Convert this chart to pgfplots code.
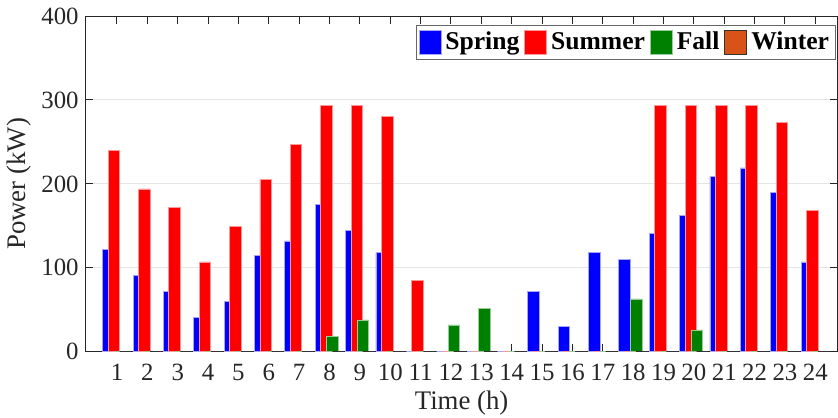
\documentclass[border=0pt]{standalone}
\usepackage{fontspec}
\setmainfont{Liberation Serif}
\usepackage{pgfplots}
\pgfplotsset{compat=1.18}
\definecolor{mgray}{RGB}{38,38,38}
\definecolor{cspring}{RGB}{0,0,255}
\definecolor{csummer}{RGB}{255,0,0}
\definecolor{cfall}{RGB}{0,128,0}
\definecolor{cwinter}{RGB}{217,83,25}
\begin{document}
\begin{tikzpicture}
\begin{axis}[
  name=ax,
  scale only axis,
  width=375.9pt, height=167.9pt,
  xmin=-0.03, xmax=24.73,
  ymin=0, ymax=400,
  xtick={1,...,24},
  ytick={0,100,200,300,400},
  /pgf/number format/assume math mode=true,
  xticklabel={\pgfmathprintnumber{\tick}},
  yticklabel={\pgfmathprintnumber{\tick}},
  ymajorgrids,
  grid style={draw=black!10, line width=0.5pt},
  axis line style={draw=mgray, line width=0.5pt},
  major tick style={draw=mgray, line width=0.5pt},
  major tick length=3.8pt,
  tick label style={font=\fontsize{12.4}{14}\selectfont, text=mgray},
  xticklabel style={yshift=-2.5pt},
  xlabel={Time (h)}, ylabel={Power (kW)},
  label style={font=\fontsize{13.4}{15}\selectfont, text=mgray},
  xlabel style={yshift=1.5pt},
  ylabel style={yshift=-2pt},
  legend columns=4,
  legend style={at={(0.998,0.973)}, anchor=north east, draw=black!60, line width=0.6pt,
    font=\fontsize{12.8}{15}\selectfont\bfseries, inner sep=1.2pt,
    /tikz/every even column/.append style={column sep=0.5pt}},
  legend image code/.code={\draw[#1] (0pt,-6pt) rectangle (11pt,6.2pt);},
]
\addplot[ybar, bar width=0.38, bar shift=-0.28, fill=cspring, draw=cspring!35, line width=0.4pt] coordinates {
(1,122)(2,91)(3,72)(4,41)(5,60)(6,115)(7,132)(8,176)(9,145)(10,118)(11,0)(12,0)
(13,0)(14,0)(15,72)(16,30)(17,118)(18,110)(19,141)(20,162)(21,209)(22,219)(23,190)(24,107)};
\addplot[ybar, bar width=0.38, bar shift=-0.10, fill=csummer, draw=csummer!40, line width=0.4pt] coordinates {
(1,240)(2,194)(3,172)(4,107)(5,149)(6,205)(7,247)(8,293)(9,293)(10,280)(11,85)(12,0)
(13,0)(14,0)(15,0)(16,0)(17,0)(18,0)(19,293)(20,293)(21,293)(22,293)(23,273)(24,168)};
\addplot[ybar, bar width=0.38, bar shift=0.10, fill=cfall, draw=cfall!40, line width=0.4pt] coordinates {
(1,0)(2,0)(3,0)(4,0)(5,0)(6,0)(7,0)(8,18)(9,38)(10,0)(11,0)(12,32)
(13,52)(14,0)(15,0)(16,0)(17,0)(18,63)(19,0)(20,26)(21,0)(22,0)(23,0)(24,0)};
\addplot[ybar, bar width=0.38, bar shift=0.28, fill=cwinter, draw=black!80, line width=0.4pt] coordinates {
(1,0)(2,0)(3,0)(4,0)(5,0)(6,0)(7,0)(8,0)(9,0)(10,0)(11,0)(12,0)
(13,0)(14,0)(15,0)(16,0)(17,0)(18,0)(19,0)(20,0)(21,0)(22,0)(23,0)(24,0)};
\legend{Spring,Summer,Fall,Winter}
\end{axis}
\pgfresetboundingbox
\path ([shift={(-42.85pt,-32.65pt)}]ax.south west) rectangle ([shift={(0.25pt,8pt)}]ax.north east);
\end{tikzpicture}
\end{document}
